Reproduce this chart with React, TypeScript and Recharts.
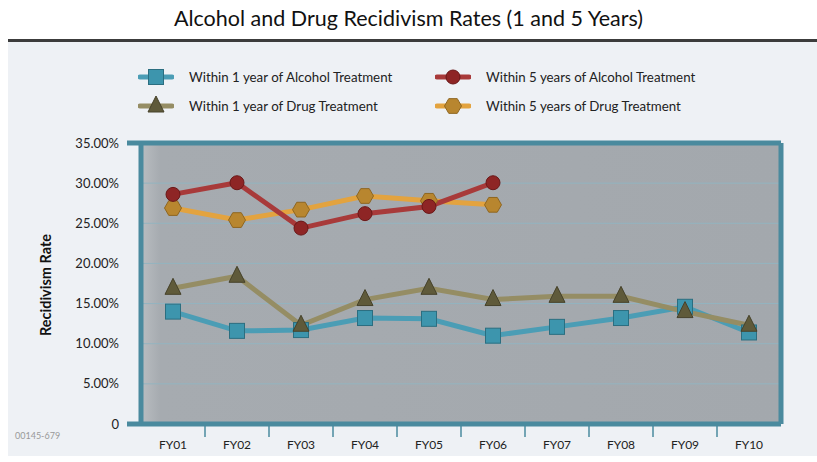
import React from 'react';
import {
    LineChart,
    Line,
    XAxis,
    YAxis,
    CartesianGrid,
} from 'recharts';

const years = ['FY01', 'FY02', 'FY03', 'FY04', 'FY05', 'FY06', 'FY07', 'FY08', 'FY09', 'FY10'];
const alcohol1yr = [14.0, 11.6, 11.7, 13.2, 13.1, 11.0, 12.1, 13.2, 14.6, 11.4];
const drug1yr = [16.9, 18.4, 12.3, 15.5, 16.9, 15.5, 15.9, 15.9, 14.0, 12.3];
const alcohol5yr = [28.6, 30.05, 24.4, 26.2, 27.1, 30.05, null, null, null, null];
const drug5yr = [26.9, 25.4, 26.7, 28.4, 27.8, 27.3, null, null, null, null];
const yTicks = [0, 5, 10, 15, 20, 25, 30, 35];

const data = years.map((fy, i) => ({
    fy,
    a1: alcohol1yr[i],
    d1: drug1yr[i],
    a5: alcohol5yr[i],
    d5: drug5yr[i],
}));

const TEAL = '#4a8a9e';
const FONT = 'Lato, "Open Sans", sans-serif';

const COLORS = {
    a1: { line: '#4b9db5', fill: '#3d95ad', edge: '#2b6e80' },
    d1: { line: '#958d64', fill: '#5f5a3a', edge: '#46422a' },
    a5: { line: '#a83a3a', fill: '#8e2525', edge: '#6a1818' },
    d5: { line: '#e3a33f', fill: '#b8862f', edge: '#8f6620' },
};

function Marker({ kind, cx, cy }: { kind: string; cx: number; cy: number }) {
    if (cx == null || cy == null) return null;
    if (kind === 'a1') {
        return <rect x={cx - 7.5} y={cy - 7.5} width={15} height={15} fill={COLORS.a1.fill} stroke={COLORS.a1.edge} strokeWidth={1} />;
    }
    if (kind === 'd1') {
        const pts = `${cx},${cy - 10} ${cx + 8},${cy + 6} ${cx - 8},${cy + 6}`;
        return <polygon points={pts} fill={COLORS.d1.fill} stroke={COLORS.d1.edge} strokeWidth={1} />;
    }
    if (kind === 'a5') {
        return <circle cx={cx} cy={cy} r={7} fill={COLORS.a5.fill} stroke={COLORS.a5.edge} strokeWidth={1} />;
    }
    const r = 8.5;
    const pts = [0, 1, 2, 3, 4, 5]
        .map((k) => {
            const a = (Math.PI / 3) * k;
            return `${cx + r * Math.cos(a)},${cy + r * Math.sin(a)}`;
        })
        .join(' ');
    return <polygon points={pts} fill={COLORS.d5.fill} stroke={COLORS.d5.edge} strokeWidth={1} />;
}

const dotFor = (kind: string) => (props: any) => (
    <Marker key={`${kind}-${props.index}`} kind={kind} cx={props.cx} cy={props.cy} />
);

function YTick(props: any) {
    const { x, y, payload } = props;
    const v = payload.value;
    const label = v === 0 ? '0' : `${v.toFixed(2)}%`;
    return (
        <g>
            {(v === 0 || v === 35) && (
                <line x1={x - 14} x2={x} y1={y} y2={y} stroke={TEAL} strokeWidth={5} />
            )}
            <text x={x - 22} y={y} dy="0.355em" textAnchor="end" fontSize={13} fill="#222" fontFamily={FONT}>
                {label}
            </text>
        </g>
    );
}

function XTick(props: any) {
    const { x, y, payload, index } = props;
    return (
        <g>
            {index < years.length - 1 && (
                <line x1={x + 32} x2={x + 32} y1={y} y2={y + 13} stroke={TEAL} strokeWidth={1.5} />
            )}
            <text x={x} y={y + 21} dy="0.355em" textAnchor="middle" fontSize={12} fill="#222" fontFamily={FONT}>
                {payload.value}
            </text>
        </g>
    );
}

const legendItems = [
    { kind: 'a1', label: 'Within 1 year of Alcohol Treatment', left: 138, top: 77 },
    { kind: 'a5', label: 'Within 5 years of Alcohol Treatment', left: 435, top: 77 },
    { kind: 'd1', label: 'Within 1 year of Drug Treatment', left: 138, top: 106 },
    { kind: 'd5', label: 'Within 5 years of Drug Treatment', left: 435, top: 106 },
];

const axisPad = { left: 32, right: 32 };

export default function App() {
    return (
        <div style={{ position: 'relative', width: 817, height: 462, background: '#fff', fontFamily: FONT, overflow: 'hidden' }}>
            <style>{'body{margin:0}'}</style>
            <div style={{ position: 'absolute', left: 0, top: 5, width: 817, textAlign: 'center', fontSize: 21.5, color: '#111' }}>
                Alcohol and Drug Recidivism Rates (1 and 5 Years)
            </div>
            <div style={{ position: 'absolute', left: 8, right: 0, top: 39, height: 2.5, background: '#3c3c3c' }} />
            <div style={{ position: 'absolute', left: 8, right: 0, top: 42, bottom: 6, background: '#eef1f5' }} />

            {/* Legend */}
            {legendItems.map((it) => {
                const c = (COLORS as any)[it.kind];
                return (
                    <div key={it.kind} style={{ position: 'absolute', left: it.left, top: it.top - 10, height: 20, display: 'flex', alignItems: 'center' }}>
                        <svg width={36} height={20}>
                            <line x1={2} x2={34} y1={10} y2={10} stroke={c.line} strokeWidth={5} strokeLinecap="round" />
                            <Marker kind={it.kind} cx={18} cy={10} />
                        </svg>
                        <span style={{ marginLeft: 15, fontSize: 13.3, color: '#222' }}>{it.label}</span>
                    </div>
                );
            })}

            <div style={{ position: 'absolute', left: 0, top: 0 }}>
                <LineChart width={817} height={462} data={data} margin={{ top: 142, right: 35, bottom: 8, left: 0 }}>
                    <defs>
                        <linearGradient id="plotBg" x1="0" y1="0" x2="1" y2="0">
                            <stop offset="0%" stopColor="#b9bdc1" />
                            <stop offset="3%" stopColor="#a6abb0" />
                            <stop offset="100%" stopColor="#a3a8ad" />
                        </linearGradient>
                    </defs>
                    <CartesianGrid vertical={false} stroke="#93b4c0" strokeWidth={1} fill="url(#plotBg)" fillOpacity={1} />
                    <XAxis
                        dataKey="fy"
                        height={30}
                        interval={0}
                        padding={axisPad}
                        axisLine={{ stroke: TEAL, strokeWidth: 5 }}
                        tickLine={false}
                        tickSize={0}
                        tickMargin={0}
                        tick={<XTick />}
                    />
                    <XAxis xAxisId="top" dataKey="fy" orientation="top" height={1} padding={axisPad} tick={false} tickLine={false} axisLine={{ stroke: TEAL, strokeWidth: 5 }} />
                    <YAxis
                        width={141}
                        domain={[0, 35]}
                        ticks={yTicks}
                        interval={0}
                        axisLine={{ stroke: TEAL, strokeWidth: 5 }}
                        tickLine={false}
                        tickSize={0}
                        tickMargin={0}
                        tick={<YTick />}
                    />
                    <YAxis yAxisId="right" orientation="right" width={1} domain={[0, 35]} tick={false} tickLine={false} axisLine={{ stroke: TEAL, strokeWidth: 5 }} />
                    <Line dataKey="a1" stroke={COLORS.a1.line} strokeWidth={5} dot={dotFor('a1')} activeDot={false} isAnimationActive={false} />
                    <Line dataKey="d1" stroke={COLORS.d1.line} strokeWidth={5} dot={dotFor('d1')} activeDot={false} isAnimationActive={false} />
                    <Line dataKey="d5" yAxisId="right" stroke={COLORS.d5.line} strokeWidth={5} dot={dotFor('d5')} activeDot={false} isAnimationActive={false} />
                    <Line dataKey="a5" xAxisId="top" stroke={COLORS.a5.line} strokeWidth={5} dot={dotFor('a5')} activeDot={false} isAnimationActive={false} />
                </LineChart>
            </div>

            <div
                style={{
                    position: 'absolute',
                    left: 45,
                    top: 285,
                    transform: 'translate(-50%, -50%) rotate(-90deg)',
                    fontWeight: 'bold',
                    fontSize: 14.5,
                    color: '#111',
                    whiteSpace: 'nowrap',
                }}
            >
                Recidivism Rate
            </div>
            <div style={{ position: 'absolute', left: 15, top: 430, fontSize: 9, color: '#999' }}>00145-679</div>
        </div>
    );
}
